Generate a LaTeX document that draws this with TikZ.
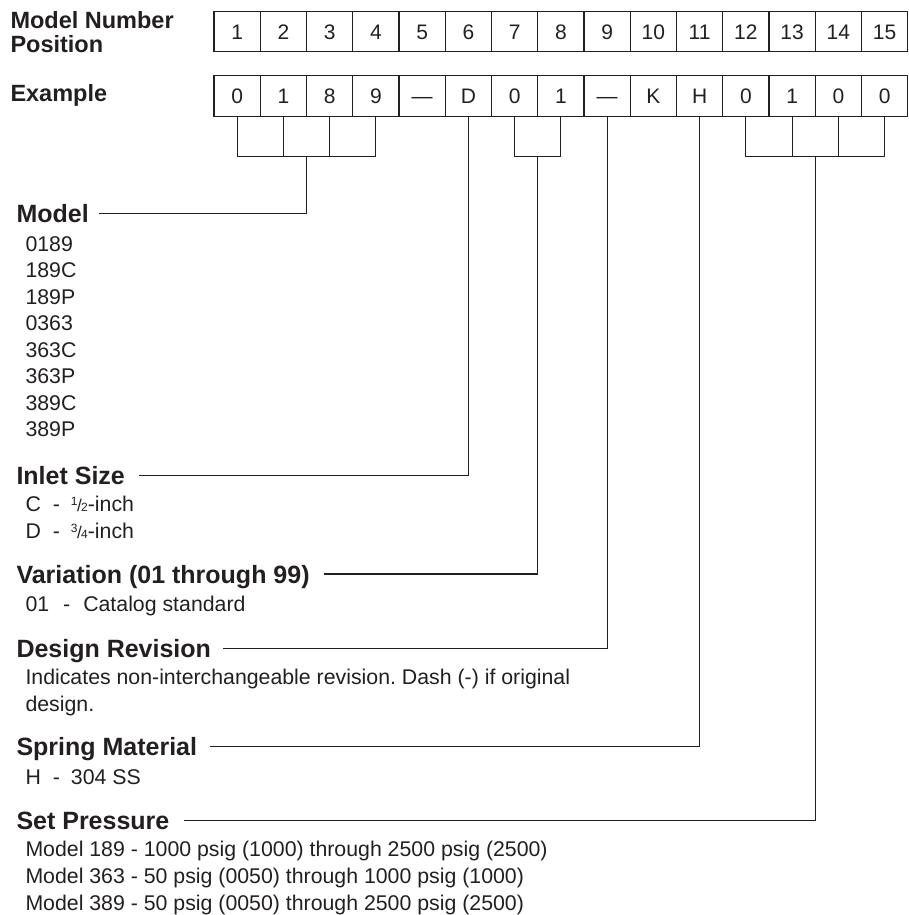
\documentclass[tikz,border=0pt]{standalone}
\usepackage{fontspec}
\setmainfont{Liberation Sans}
\usetikzlibrary{calc}
\definecolor{ink}{HTML}{231F20}
\frenchspacing
\newcommand\fracx[2]{\raisebox{5.5pt}{\fontsize{12}{12}\selectfont #1}\kern-0.6pt{\fontsize{17}{17}\selectfont /}\kern-0.6pt{\fontsize{12}{12}\selectfont #2}}
\begin{document}
\begin{tikzpicture}[x=1pt,y=-1pt,
  every node/.style={inner sep=0pt, outer sep=0pt, text=ink},
  cell/.style={draw=ink, line width=1.1pt, minimum width=46.25pt,
    font=\fontsize{21}{21}\selectfont, text height=15pt, text depth=0pt},
  head/.style={anchor=west, font=\fontsize{25}{25}\selectfont\bfseries, text height=18pt, text depth=0pt},
  toph/.style={font=\fontsize{23.5}{25}\selectfont\bfseries},
  body/.style={anchor=base west, font=\fontsize{21.3}{26}\selectfont\frenchspacing},
  conn/.style={draw=ink, line width=1.1pt},
]
\useasboundingbox (0,0) rectangle (908,915);
% header labels
\node[toph, anchor=base west] (lab1) at (10.5,28.3) {Model Number};
\node[toph, anchor=base west] (lab2) at (10.5,53) {Position};
\node[toph, anchor=base west] (lab3) at (10.5,102) {Example};
% cells
\foreach \i in {1,...,15}
  \node[cell, minimum height=40pt] (p\i) at ({214+(\i-0.5)*46.25},31.8) {\i};
\foreach \t [count=\i] in {0,1,8,9,—,D,0,1,—,K,H,0,1,0,0}
  \node[cell, minimum height=41pt] (e\i) at ({214+(\i-0.5)*46.25},95.6) {\t};
% headings
\node[head] (hModel) at (16.5,213.3) {Model};
\node[head] (hInlet) at (16.5,475.8) {Inlet Size};
\node[head] (hVar) at (16.5,574) {Variation (01 through 99)};
\node[head] (hDes) at (16.5,648.3) {Design Revision};
\node[head] (hSpr) at (16.5,746.7) {Spring Material};
\node[head] (hSet) at (16.5,820.7) {Set Pressure};
% body texts
\foreach \t [count=\k] in {0189,189C,189P,0363,363C,363P,389C,389P}
  \node[body] (m\k) at (25.5,{251.2+(\k-1)*26.5}) {\t};
\node[body] (in1) at (25.5,511.2) {C\hspace{12pt}-\hspace{11pt}\fracx{1}{2}-inch};
\node[body] (in2) at (25.5,538.3) {D\hspace{12pt}-\hspace{11pt}\fracx{3}{4}-inch};
\node[body] (va1) at (25.5,611.5) {01\hspace{14pt}-\hspace{13pt}Catalog standard};
\node[body] (de1) at (25.5,684.5) {Indicates non-interchangeable revision. Dash (-) if original};
\node[body] (de2) at (25.5,711.2) {design.};
\node[body] (sp1) at (25.5,784.2) {H\hspace{12pt}-\hspace{11pt}304 SS};
\node[body] (se1) at (25.5,856.5) {Model 189 - 1000 psig (1000) through 2500 psig (2500)};
\node[body] (se2) at (25.5,883.4) {Model 363 - 50 psig (0050) through 1000 psig (1000)};
\node[body] (se3) at (25.5,910.4) {Model 389 - 50 psig (0050) through 2500 psig (2500)};
% bracket joints
\coordinate (bA) at ($(e2.south east)+(0,40)$);
\coordinate (bB) at ($(e7.south east)+(0,40)$);
\coordinate (bC) at ($(e13.south east)+(0,40)$);
% connectors
\draw[conn] (e1.south) |- (bA) -| (e4.south);
\draw[conn] (e2.south) -- (e2.south |- bA);
\draw[conn] (e3.south) -- (e3.south |- bA);
\draw[conn] (bA) |- ($(hModel.east)+(10,0)$);
\draw[conn] (e6.south) |- ($(hInlet.east)+(14,0)$);
\draw[conn] (e7.south) |- (bB) -| (e8.south);
\draw[conn] (bB) |- ($(hVar.east)+(14,0)$);
\draw[conn] (e9.south) |- ($(hDes.east)+(12,0)$);
\draw[conn] (e11.south) |- ($(hSpr.east)+(13,0)$);
\draw[conn] (e12.south) |- (bC) -| (e15.south);
\draw[conn] (e13.south) -- (e13.south |- bC);
\draw[conn] (e14.south) -- (e14.south |- bC);
\draw[conn] (bC) |- ($(hSet.east)+(15,0)$);
\end{tikzpicture}
\end{document}
